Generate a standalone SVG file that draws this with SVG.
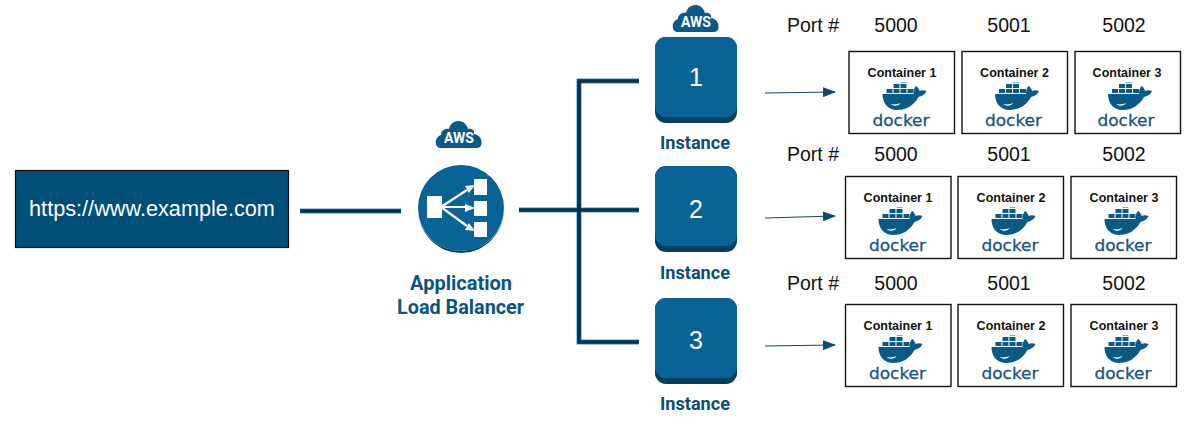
<svg xmlns="http://www.w3.org/2000/svg" width="1188" height="435" viewBox="0 0 1188 435">
<style>
text{font-family:"Liberation Sans",Arial,sans-serif}
.port{font-size:19.500px;fill:#111;text-anchor:middle}
.cname{font-size:12.500px;font-weight:bold;fill:#111;text-anchor:middle}
.box{fill:#fff;stroke:#111;stroke-width:1.400}
.dk{font-family:"DejaVu Sans",sans-serif;font-size:16.500px;fill:#17557c;stroke:#17557c;stroke-width:.3;text-anchor:middle}
.inst{font-family:Roboto,"Liberation Sans",sans-serif;font-size:17.500px;font-weight:700;fill:#0f4e72;text-anchor:middle}
.num{font-size:25px;fill:#fff;text-anchor:middle}
.halo{fill:none;stroke:#3f8fbc;stroke-width:5}
.wire{fill:none;stroke:#03324f;stroke-width:3.600}
.arr{stroke:#0d4a6e;stroke-width:1.200;fill:none;marker-end:url(#ah)}
.aws{font-family:Roboto,"Liberation Sans",sans-serif;font-size:14px;font-weight:700;fill:#fff;text-anchor:middle}
.lb{font-family:Roboto,"Liberation Sans",sans-serif;font-size:19.500px;font-weight:700;fill:#0a5480;text-anchor:middle}
</style>
<defs>
<marker id="ah" markerWidth="13" markerHeight="10" refX="12" refY="5" orient="auto" markerUnits="userSpaceOnUse"><path d="M0 0L13 5L0 10z" fill="#0d4a6e"/></marker>
<g id="cloud"><path d="M-18 14C-25 14-25 3-18 1C-18-4-13-6-10-5C-8-15 6-16 9-5C13-6 16-3 15 0C24 1 25 14 18 14Z" fill="#0a5a88"/><text class="aws" x="0" y="9">AWS</text></g>
<g id="whale">
<path d="M-21 0H10C10-4 11-7 13-8C15-6 16-4 16-3C18-4 21-4 23-3C22 0 19 2 15 3C10 12 2 16-6 16C-16 16-21 9-21 0Z" fill="#0a5a88"/>
<path d="M-17-5h6v4h-6zM-10-5h6v4h-6zM-3-5h6v4h-6zM4-5h6v4h-6zM-10-10h6v4h-6zM-3-10h6v4h-6z" fill="#0a5a88"/>
<path d="M-3-11h6v-0.500h-6z" fill="#0a5a88"/>
<path d="M-13 10C-9 13-5 12-3 9C-5 10-9 11-13 10Z" fill="#fff"/>
</g>
<g id="inst"><rect x="0" y="0" width="82" height="86" rx="11" fill="#053f5f"/><rect x="0" y="0" width="82" height="80" rx="11" fill="#0a6396"/></g>
</defs>

<g id="connectors">
<path class="halo" d="M300 211H401"/>
<path class="halo" d="M519 210H639"/>
<path class="halo" d="M639 81H579V342H639"/>
<path class="wire" d="M300 211H401"/>
<path class="wire" d="M519 210H639"/>
<path class="wire" d="M639 81H579V342H639"/>
<path class="arr" d="M765 93L835 92"/>
<path class="arr" d="M765 218L835 216"/>
<path class="arr" d="M765 346L835 345"/>
</g>

<g id="url"><rect x="15.500" y="170.500" width="273" height="77" fill="#004f79" stroke="#111" stroke-width="1.200"/><text x="152" y="216" font-size="21.700" fill="#fff" text-anchor="middle">https://www.example.com</text></g>

<g id="alb">
<use href="#cloud" x="459" y="134"/>
<circle cx="461" cy="208" r="43" fill="#0a6396"/>
<path d="M418 209A43 44 0 0 0 504 209A43 42 0 0 1 418 209Z" fill="#053f5f"/>
<g fill="#fff" stroke="#fff">
<rect x="427" y="196" width="15" height="22" stroke="none"/>
<rect x="474" y="179" width="13" height="16" stroke="none"/>
<rect x="474" y="201" width="13" height="15" stroke="none"/>
<rect x="474" y="222" width="13" height="15" stroke="none"/>
<path d="M441 207L467 190M441 207H468M441 207L467 226" stroke-width="2.200" fill="none"/>
<path d="M475 185L465 186L469 193ZM475 208L465 204V212ZM475 231L465 230L469 223Z" stroke="none"/>
</g>
<text class="lb" x="461" y="290" textLength="102" lengthAdjust="spacingAndGlyphs">Application</text>
<text class="lb" x="460.500" y="314" textLength="127" lengthAdjust="spacingAndGlyphs">Load Balancer</text>
</g>

<g id="instance1"><use href="#cloud" x="696" y="18"/><use href="#inst" x="655" y="37"/><text class="num" x="696" y="86">1</text><text class="inst" x="695" y="149" textLength="70" lengthAdjust="spacingAndGlyphs">Instance</text></g>
<g id="instance2"><use href="#inst" x="655" y="166"/><text class="num" x="696" y="218">2</text><text class="inst" x="695" y="279" textLength="70" lengthAdjust="spacingAndGlyphs">Instance</text></g>
<g id="instance3"><use href="#inst" x="655" y="298"/><text class="num" x="696" y="349">3</text><text class="inst" x="695" y="410" textLength="70" lengthAdjust="spacingAndGlyphs">Instance</text></g>

<g id="ports">
<text class="port" x="813" y="32">Port #</text><text class="port" x="896" y="32">5000</text><text class="port" x="1009" y="32">5001</text><text class="port" x="1124" y="32">5002</text>
<text class="port" x="813" y="161">Port #</text><text class="port" x="896" y="161">5000</text><text class="port" x="1009" y="161">5001</text><text class="port" x="1124" y="161">5002</text>
<text class="port" x="813" y="290">Port #</text><text class="port" x="896" y="290">5000</text><text class="port" x="1009" y="290">5001</text><text class="port" x="1124" y="290">5002</text>
</g>

<g id="c11"><rect class="box" x="849" y="51.500" width="105.500" height="82"/><text class="cname" x="902" y="77">Container 1</text><use href="#whale" x="903.500" y="94"/><text class="dk" x="901" y="126" textLength="57" lengthAdjust="spacingAndGlyphs">docker</text></g>
<g id="c12"><rect class="box" x="962" y="51.500" width="105.500" height="82"/><text class="cname" x="1014.500" y="77">Container 2</text><use href="#whale" x="1016" y="94"/><text class="dk" x="1013.500" y="126" textLength="57" lengthAdjust="spacingAndGlyphs">docker</text></g>
<g id="c13"><rect class="box" x="1075" y="51.500" width="105.500" height="82"/><text class="cname" x="1127" y="77">Container 3</text><use href="#whale" x="1129" y="94"/><text class="dk" x="1126" y="126" textLength="57" lengthAdjust="spacingAndGlyphs">docker</text></g>
<g id="c21"><rect class="box" x="845.500" y="176.500" width="105.500" height="82"/><text class="cname" x="898" y="202">Container 1</text><use href="#whale" x="899.500" y="219"/><text class="dk" x="897.500" y="251" textLength="57" lengthAdjust="spacingAndGlyphs">docker</text></g>
<g id="c22"><rect class="box" x="958" y="176.500" width="105.500" height="82"/><text class="cname" x="1011" y="202">Container 2</text><use href="#whale" x="1012.500" y="219"/><text class="dk" x="1010" y="251" textLength="57" lengthAdjust="spacingAndGlyphs">docker</text></g>
<g id="c23"><rect class="box" x="1071" y="176.500" width="105.500" height="82"/><text class="cname" x="1124" y="202">Container 3</text><use href="#whale" x="1125.500" y="219"/><text class="dk" x="1123" y="251" textLength="57" lengthAdjust="spacingAndGlyphs">docker</text></g>
<g id="c31"><rect class="box" x="845.500" y="304.500" width="105.500" height="82"/><text class="cname" x="898" y="330">Container 1</text><use href="#whale" x="899.500" y="347"/><text class="dk" x="897.500" y="379" textLength="57" lengthAdjust="spacingAndGlyphs">docker</text></g>
<g id="c32"><rect class="box" x="958" y="304.500" width="105.500" height="82"/><text class="cname" x="1011" y="330">Container 2</text><use href="#whale" x="1012.500" y="347"/><text class="dk" x="1010" y="379" textLength="57" lengthAdjust="spacingAndGlyphs">docker</text></g>
<g id="c33"><rect class="box" x="1071" y="304.500" width="105.500" height="82"/><text class="cname" x="1124" y="330">Container 3</text><use href="#whale" x="1125.500" y="347"/><text class="dk" x="1123" y="379" textLength="57" lengthAdjust="spacingAndGlyphs">docker</text></g>
</svg>
